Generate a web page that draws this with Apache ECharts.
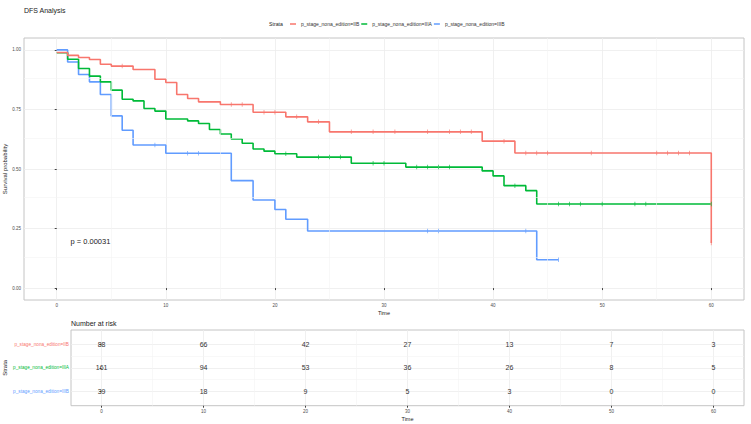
<!DOCTYPE html>
<html><head><meta charset="utf-8">
<script src="https://cdn.jsdelivr.net/npm/echarts@6/dist/echarts.min.js"></script>
<style>html,body{margin:0;padding:0;background:#fff}#c{width:751px;height:424px}</style>
</head><body><div id="c"></div>
<script>
const strata = ['p_stage_nona_edition=IIB', 'p_stage_nona_edition=IIIA', 'p_stage_nona_edition=IIIB'];
const colors = ['#F8766D', '#00BA38', '#619CFF'];

const iibTimes = [0, 1, 2, 3, 4, 5, 7, 9, 10, 11, 12, 13, 15, 18, 21, 23, 25, 39, 42, 60];
const iibSurv  = [0.989, 0.977, 0.968, 0.960, 0.940, 0.932, 0.918, 0.877, 0.863, 0.813, 0.796, 0.782, 0.771, 0.738, 0.719, 0.698, 0.656, 0.617, 0.567, 0.189];
const iibCens  = [6, 16, 17, 19, 20, 22, 24, 27, 29, 31, 34, 36, 37, 38, 41, 43, 44, 45, 49, 55, 56, 57, 58, 60];

const iiiaTimes = [0, 1, 2, 3, 4, 5, 6, 7, 8, 9, 10, 12, 13, 14, 15, 16, 17, 18, 19, 20, 22, 27, 32, 39, 40, 41, 43, 44, 60];
const iiiaSurv  = [0.988, 0.961, 0.922, 0.890, 0.866, 0.831, 0.793, 0.786, 0.754, 0.743, 0.710, 0.702, 0.691, 0.666, 0.647, 0.626, 0.608, 0.584, 0.575, 0.564, 0.550, 0.524, 0.508, 0.492, 0.471, 0.430, 0.409, 0.353, 0.353];
const iiiaCens  = [21, 24, 25, 26, 29, 30, 33, 34, 35, 36, 42, 46, 47, 48, 50, 53, 54, 60];

const iiibTimes = [0, 1, 2, 3, 4, 5, 6, 7, 10, 16, 18, 20, 21, 23, 44, 46];
const iiibSurv  = [1.0, 0.949, 0.897, 0.866, 0.813, 0.723, 0.663, 0.601, 0.566, 0.451, 0.370, 0.330, 0.289, 0.240, 0.119, 0.119];
const iiibCens  = [9, 12, 13, 34, 35, 43, 46];

const riskTimes = [0, 10, 20, 30, 40, 50, 60];
const riskIIB  = [88, 66, 42, 27, 13, 7, 3];
const riskIIIA = [161, 94, 53, 36, 26, 8, 5];
const riskIIIB = [39, 18, 9, 5, 3, 0, 0];

const xTicks = [0, 10, 20, 30, 40, 50, 60];
const xMinor = [5, 15, 25, 35, 45, 55];
const yTicks = [0, 0.25, 0.5, 0.75, 1];
const yMinor = [0.125, 0.375, 0.625, 0.875];
const pText = 'p = 0.00031';

const FONT = 'Liberation Sans, Arial, sans-serif';
const groups = [
  {times: iibTimes, surv: iibSurv, cens: iibCens, risk: riskIIB},
  {times: iiiaTimes, surv: iiiaSurv, cens: iiiaCens, risk: riskIIIA},
  {times: iiibTimes, surv: iiibSurv, cens: iiibCens, risk: riskIIIB}
];
function survAt(times, surv, t) {
  let s = surv[0];
  for (let i = 0; i < times.length; i++) if (times[i] <= t) s = surv[i];
  return s;
}

const series = [];
const minorStyle = {color: '#f4f4f4', width: 0.6, type: 'solid'};
series.push({
  type: 'line', name: 'minorMain', xAxisIndex: 0, yAxisIndex: 0, data: [], z: 0, silent: true,
  markLine: {silent: true, symbol: 'none', label: {show: false}, lineStyle: minorStyle, animation: false,
    data: xMinor.map(v => ({xAxis: v})).concat(yMinor.map(v => ({yAxis: v})))}
});
series.push({
  type: 'line', name: 'minorRisk', xAxisIndex: 1, yAxisIndex: 1, data: [], z: 0, silent: true,
  markLine: {silent: true, symbol: 'none', label: {show: false}, lineStyle: minorStyle, animation: false,
    data: xMinor.map(v => ({xAxis: v})).concat([1.5, 2.5].map(v => ({yAxis: v})))}
});

groups.forEach((g, k) => {
  series.push({
    type: 'line', name: strata[k], xAxisIndex: 0, yAxisIndex: 0, step: 'end',
    showSymbol: false, symbol: 'none', z: 5 - k, color: colors[k],
    lineStyle: {color: colors[k], width: 1.6}, itemStyle: {color: colors[k]},
    data: g.times.map((t, i) => [t, g.surv[i]])
  });
  series.push({
    type: 'scatter', name: 'c' + k, xAxisIndex: 0, yAxisIndex: 0, z: 6,
    symbol: 'rect', symbolSize: [0.8, 4.5], itemStyle: {color: colors[k]},
    data: g.cens.map(t => [t, survAt(g.times, g.surv, t)])
  });
  series.push({
    type: 'custom', name: 'r' + k, xAxisIndex: 1, yAxisIndex: 1, z: 6, silent: true,
    encode: {x: 0, y: 1},
    renderItem: (params, api) => {
      const p = api.coord([api.value(0), api.value(1)]);
      return {type: 'text', x: p[0], y: p[1], style: {
        text: String(api.value(2)), fill: '#333', fontSize: 7, fontFamily: FONT,
        align: 'center', verticalAlign: 'middle'}};
    },
    data: riskTimes.map((t, i) => [t, k + 1, g.risk[i]])
  });
});

const axisTxt = {color: '#4d4d4d', fontSize: 4.5, fontFamily: FONT};
const gridLine = {show: true, lineStyle: {color: '#ececec', width: 0.8}};
const option = {
  animation: false,
  backgroundColor: '#fff',
  textStyle: {fontFamily: FONT},
  title: [
    {text: 'DFS Analysis', left: 24, top: 7, padding: 0, textStyle: {fontSize: 7, fontWeight: 'normal', color: '#222', fontFamily: FONT}},
    {text: 'Strata', left: 269, top: 21.5, padding: 0, textStyle: {fontSize: 5.2, fontWeight: 'normal', color: '#222', fontFamily: FONT}},
    {text: 'Number at risk', left: 71, top: 320, padding: 0, textStyle: {fontSize: 7, fontWeight: 'normal', color: '#222', fontFamily: FONT}}
  ],
  legend: {
    data: strata, left: 290, top: 21.5, orient: 'horizontal', padding: 0,
    icon: 'rect', itemWidth: 6, itemHeight: 1.5, itemGap: 2,
    textStyle: {fontSize: 5, color: '#333', fontFamily: FONT}
  },
  grid: [
    {left: 24, right: 7, top: 38, bottom: 124, show: true, borderColor: '#c4c4c4', borderWidth: 1, containLabel: false, outerBoundsMode: 'none'},
    {left: 71, right: 7, top: 330, bottom: 18.3, show: true, borderColor: '#c4c4c4', borderWidth: 1, containLabel: false, outerBoundsMode: 'none'}
  ],
  xAxis: [
    {type: 'value', gridIndex: 0, min: -3, max: 63,
     name: 'Time', nameLocation: 'middle', nameGap: 10, nameMoveOverlap: false, nameTextStyle: {fontSize: 5.5, color: '#222', fontFamily: FONT},
     axisLine: {show: false}, axisTick: {show: true, length: 2, lineStyle: {color: '#444'}, customValues: xTicks},
     axisLabel: Object.assign({margin: 3, customValues: xTicks, formatter: v => String(v)}, axisTxt),
     splitLine: gridLine},
    {type: 'value', gridIndex: 1, min: -3, max: 63,
     name: 'Time', nameLocation: 'middle', nameGap: 10, nameMoveOverlap: false, nameTextStyle: {fontSize: 5.5, color: '#222', fontFamily: FONT},
     axisLine: {show: false}, axisTick: {show: true, length: 2, lineStyle: {color: '#444'}, customValues: xTicks},
     axisLabel: Object.assign({margin: 3, customValues: xTicks, formatter: v => String(v)}, axisTxt),
     splitLine: gridLine}
  ],
  yAxis: [
    {type: 'value', gridIndex: 0, min: -0.05, max: 1.05,
     name: 'Survival probability', nameLocation: 'middle', nameGap: 16, nameMoveOverlap: false, nameTextStyle: {fontSize: 6, color: '#222', fontFamily: FONT},
     axisLine: {show: false}, axisTick: {show: true, length: 2, lineStyle: {color: '#444'}, customValues: yTicks},
     axisLabel: Object.assign({margin: 3, customValues: yTicks, formatter: v => v.toFixed(2)}, axisTxt),
     splitLine: gridLine},
    {type: 'value', gridIndex: 1, min: 0.4, max: 3.6, inverse: true,
     name: 'Strata', nameLocation: 'middle', nameGap: 63, nameMoveOverlap: false, nameTextStyle: {fontSize: 6, color: '#222', fontFamily: FONT},
     axisLine: {show: false}, axisTick: {show: true, length: 2, lineStyle: {color: '#444'}, customValues: [1, 2, 3]},
     axisLabel: {margin: 2, customValues: [1, 2, 3], fontSize: 4.7, fontFamily: FONT,
       formatter: v => '{s' + (v - 1) + '|' + strata[v - 1] + '}',
       rich: {s0: {color: colors[0], fontSize: 4.7}, s1: {color: colors[1], fontSize: 4.7}, s2: {color: colors[2], fontSize: 4.7}}},
     splitLine: gridLine}
  ],
  graphic: [
    {type: 'text', left: 70.5, top: 237.5, style: {text: pText, fontSize: 7.5, fill: '#222', font: '7.5px ' + FONT}}
  ],
  series: series
};
const chart = echarts.init(document.getElementById('c'), null, {renderer: 'svg'});
chart.setOption(option);
</script></body></html>
